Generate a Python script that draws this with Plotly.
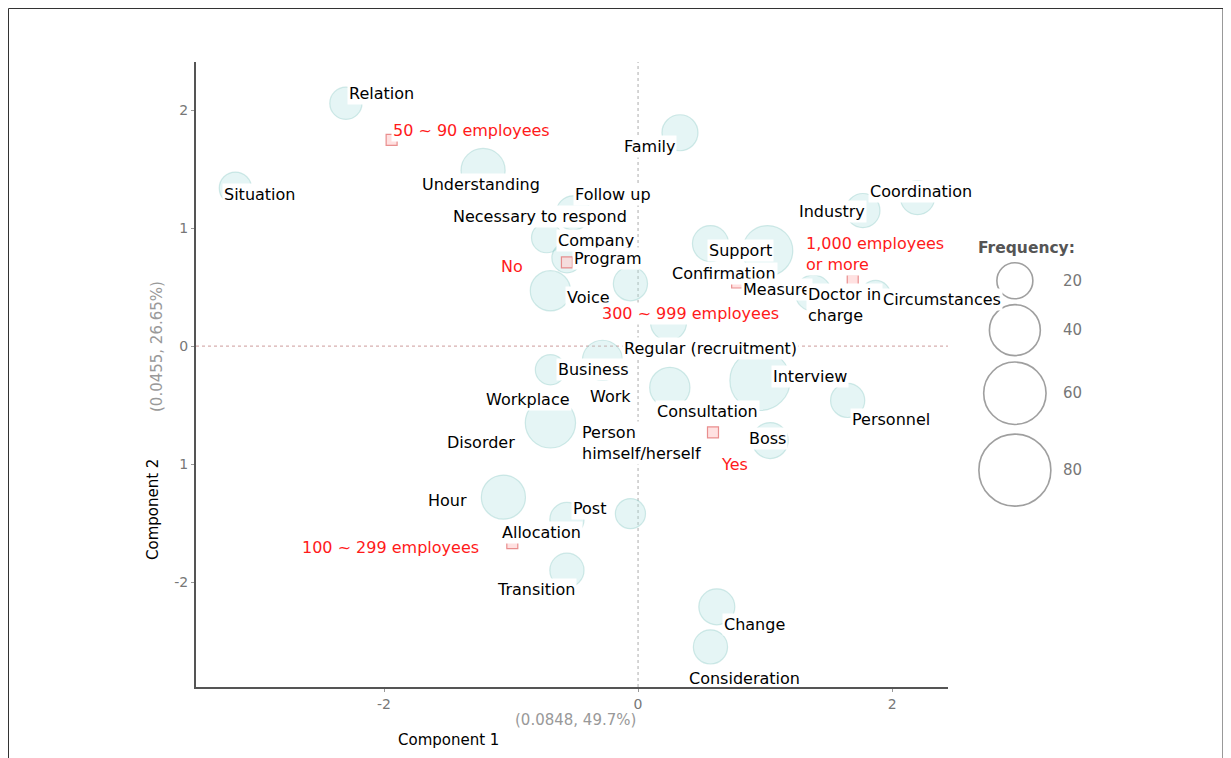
import plotly.graph_objects as go

# ---- word bubbles (component coordinates + frequency) ----
word_names = ["Relation", "Situation", "Family", "Understanding", "Follow up",
              "Necessary to respond", "Company", "Voice", "Program", "Support",
              "Confirmation", "Coordination", "Industry", "Measure", "Circumstances",
              "Regular (recruitment)", "Business", "Work", "Workplace", "Interview",
              "Consultation", "Personnel", "Boss", "Hour", "Post",
              "Person himself/herself", "Transition", "Change", "Consideration"]
word_x = [-2.30, -3.17, 0.33, -1.22, -0.51, -0.72, -0.56, -0.69, -0.06, 1.02,
          0.57, 2.20, 1.77, 1.38, 1.87, 0.24, -0.28, -0.69, -0.69, 0.96,
          0.25, 1.65, 1.04, -1.06, -0.56, -0.06, -0.56, 0.62, 0.57]
word_y = [2.06, 1.34, 1.81, 1.49, 1.13, 0.92, 0.75, 0.47, 0.53, 0.81,
          0.87, 1.26, 1.15, 0.45, 0.43, 0.20, -0.12, -0.20, -0.65, -0.29,
          -0.35, -0.46, -0.80, -1.28, -1.47, -1.42, -1.90, -2.21, -2.55]
word_freq = [16, 16, 20, 30, 18, 14, 14, 25, 18, 39,
             20, 18, 18, 20, 14, 20, 25, 14, 39, 56,
             25, 18, 20, 30, 18, 14, 18, 20, 18]

# ---- category points ----
cat_names = ["50 ~ 90 employees", "No", "300 ~ 999 employees",
             "1,000 employees or more", "Yes", "100 ~ 299 employees"]
cat_x = [-1.94, -0.56, 0.78, 1.69, 0.59, -0.99]
cat_y = [1.75, 0.71, 0.54, 0.56, -0.73, -1.67]

# ---- labels (repelled positions) ----
label_text = ["Relation", "Family", "Situation", "Understanding", "Follow up",
              "Necessary to respond", "Company", "Program", "Support", "Confirmation",
              "Measure", "Industry", "Coordination", "Circumstances", "Voice",
              "Regular (recruitment)", "Business", "Interview", "Workplace", "Work",
              "Consultation", "Personnel", "Disorder", "Boss", "Hour", "Post",
              "Allocation", "Transition", "Change", "Consideration"]
label_x = [-2.02, 0.09, -2.98, -1.24, -0.20, -0.77, -0.33, -0.24, 0.81, 0.68,
           1.09, 1.53, 2.23, 2.39, -0.39, 0.57, -0.35, 1.35, -0.87, -0.22,
           0.55, 1.99, -1.24, 1.02, -1.50, -0.38, -0.76, -0.80, 0.92, 0.84]
label_y = [2.14, 1.69, 1.29, 1.37, 1.29, 1.10, 0.90, 0.74, 0.81, 0.62,
           0.48, 1.14, 1.31, 0.40, 0.41, -0.02, -0.20, -0.26, -0.45, -0.43,
           -0.55, -0.62, -0.82, -0.78, -1.31, -1.38, -1.58, -2.06, -2.36, -2.82]
label2_text = ["Doctor in<br>charge", "Person<br>himself/herself"]
label2_x = [1.32, -0.46]
label2_y = [0.35, -0.82]

red_text = ["50 ~ 90 employees", "No", "300 ~ 999 employees", "Yes", "100 ~ 299 employees"]
red_x = [-1.31, -0.99, 0.41, 0.76, -1.95]
red_y = [1.83, 0.68, 0.28, -1.00, -1.71]
red2_text = ["1,000 employees<br>or more"]
red2_x = [1.31]
red2_y = [0.78]

legend_freq = [20, 40, 60, 80]

SIZEREF = 20 / (2 * 18 ** 2)
LABEL_FONT = dict(family="DejaVu Sans, sans-serif", size=16, color="black")

# page is offset by the 8px body margin
ML, MT = 188, 54
PW = 935
PLOT_RIGHT = 940

fig = go.Figure()

fig.add_trace(go.Scatter(
    x=word_x, y=word_y, mode="markers", text=word_names, hoverinfo="text",
    marker=dict(size=word_freq, sizemode="area", sizeref=SIZEREF,
                color="rgba(170,225,222,0.42)",
                line=dict(color="rgba(125,195,192,0.5)", width=1.2)),
    showlegend=False))

fig.add_trace(go.Scatter(
    x=cat_x, y=cat_y, mode="markers", text=cat_names, hoverinfo="text",
    marker=dict(symbol="square", size=11, color="rgba(255,205,205,0.6)",
                line=dict(color="rgba(225,110,110,0.75)", width=1.2)),
    showlegend=False))

y_min = -2.89
annotations = []
for t, x, y in zip(label_text, label_x, label_y):
    bg = "white" if y > y_min + 0.25 else "rgba(0,0,0,0)"
    annotations.append(dict(x=x, y=y, text=t, showarrow=False, xref="x", yref="y",
                            font=LABEL_FONT, bgcolor=bg))
for t, x, y in zip(label2_text, label2_x, label2_y):
    annotations.append(dict(x=x, y=y, text=t, showarrow=False, xref="x", yref="y",
                            xanchor="left", align="left", font=LABEL_FONT, bgcolor="white"))
for t, x, y in zip(red_text, red_x, red_y):
    annotations.append(dict(x=x, y=y, text=t, showarrow=False, xref="x", yref="y",
                            font=dict(LABEL_FONT, color="#ff1a1a"), bgcolor="white"))
for t, x, y in zip(red2_text, red2_x, red2_y):
    annotations.append(dict(x=x, y=y, text=t, showarrow=False, xref="x", yref="y",
                            xanchor="left", align="left",
                            font=dict(LABEL_FONT, color="#ff1a1a"), bgcolor="white"))

# ---- size legend (separate small axes) ----
leg_y = [0.650, 0.571, 0.470, 0.347]
fig.add_trace(go.Scatter(
    x=[0.31] * len(legend_freq), y=leg_y, mode="markers", xaxis="x2", yaxis="y2",
    marker=dict(size=legend_freq, sizemode="area", sizeref=SIZEREF,
                color="rgba(0,0,0,0)", line=dict(color="#777", width=1.6)),
    hoverinfo="skip", showlegend=False))
for v, yy in zip(legend_freq, leg_y):
    annotations.append(dict(x=0.65, y=yy, xref="x2", yref="y2", text=str(v), showarrow=False,
                            xanchor="center", yanchor="middle",
                            font=dict(family="DejaVu Sans, sans-serif", size=15, color="#777")))
annotations.append(dict(x=0.38, y=0.702, xref="x2", yref="y2", text="<b>Frequency:</b>",
                        xanchor="center", yanchor="middle",
                        showarrow=False, font=dict(family="DejaVu Sans, sans-serif", size=15.5, color="#555")))

# ---- axis titles ----
annotations += [
    dict(x=(157 - 196) / PW, y=(687 - 347) / 625, xref="paper", yref="paper", text="(0.0455, 26.65%)",
         textangle=-90, xanchor="center", yanchor="middle",
         showarrow=False, font=dict(family="DejaVu Sans, sans-serif", size=15, color="#999")),
    dict(x=(153 - 196) / PW, y=(687 - 510) / 625, xref="paper", yref="paper", text="Component 2",
         textangle=-90, xanchor="center", yanchor="middle",
         showarrow=False, font=dict(family="DejaVu Sans, sans-serif", size=15, color="black")),
    dict(x=(575 - 196) / PW, y=-(720 - 687) / 625, xref="paper", yref="paper", text="(0.0848, 49.7%)",
         xanchor="center", yanchor="middle",
         showarrow=False, font=dict(family="DejaVu Sans, sans-serif", size=15, color="#999")),
    dict(x=(448 - 196) / PW, y=-(740 - 687) / 625, xref="paper", yref="paper", text="Component 1",
         xanchor="center", yanchor="middle",
         showarrow=False, font=dict(family="DejaVu Sans, sans-serif", size=15, color="black")),
]

shapes = [
    dict(type="line", xref="x", yref="paper", x0=0, x1=0, y0=0, y1=1,
         line=dict(color="#bbb", width=1.2, dash="dot"), layer="below"),
    dict(type="line", xref="paper", yref="y", x0=0, x1=(PLOT_RIGHT - ML) / PW, y0=0, y1=0,
         line=dict(color="#d8b0b0", width=1.2, dash="dot"), layer="below"),
    dict(type="rect", xref="paper", yref="paper",
         x0=(0.5 - ML) / PW, x1=(1215 - ML) / PW, y0=-(100) / 625, y1=1 + (MT - 0.5) / 625,
         line=dict(color="#333", width=1)),
]

tick_font = dict(family="DejaVu Sans, sans-serif", size=14, color="#777")
fig.update_layout(
    width=1231, height=758,
    margin=dict(l=ML, r=1231 - ML - PW, t=MT, b=758 - MT - 625),
    plot_bgcolor="white", paper_bgcolor="white",
    xaxis=dict(domain=[0, (PLOT_RIGHT - ML) / PW], range=[-3.48, 2.44], tickvals=[-2, 0, 2],
               ticktext=["-2", "0", "2"],
               showgrid=False, zeroline=False, showline=True, linecolor="#555", linewidth=2,
               ticks="outside", ticklen=3, tickcolor="#999", tickfont=tick_font),
    yaxis=dict(range=[y_min, 2.41], tickvals=[-2, -1, 0, 1, 2],
               ticktext=["-2", "1", "0", "1", "2"],
               showgrid=False, zeroline=False, showline=True, linecolor="#555", linewidth=2,
               ticks="outside", ticklen=3, tickcolor="#999", tickfont=tick_font),
    xaxis2=dict(domain=[0.82, 1.0], range=[0, 1], visible=False, anchor="y2"),
    yaxis2=dict(domain=[0, 1], range=[0, 1], visible=False, anchor="x2"),
    annotations=annotations, shapes=shapes,
)

fig.write_html("out.html")
